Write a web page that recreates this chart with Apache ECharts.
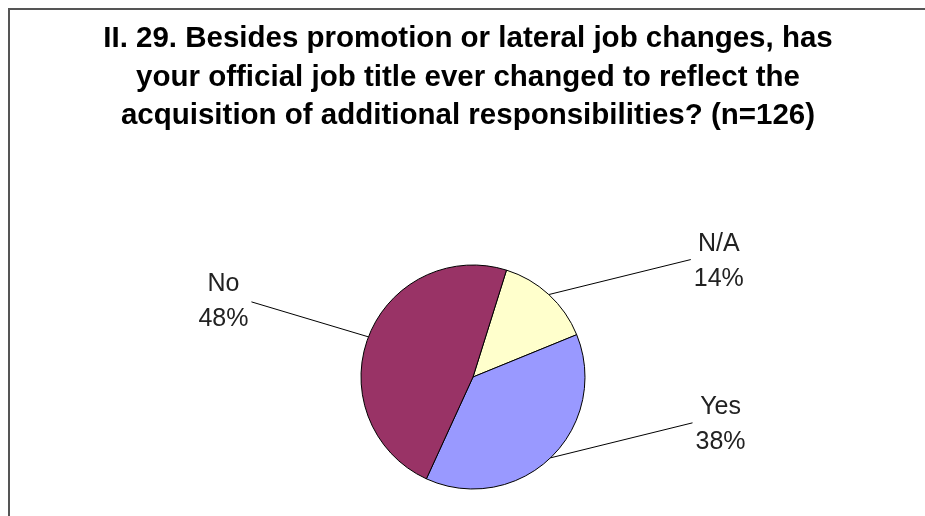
<!DOCTYPE html>
<html>
<head>
<meta charset="utf-8">
<script src="https://cdn.jsdelivr.net/npm/echarts@6/dist/echarts.min.js"></script>
<style>
  html, body { margin: 0; padding: 0; background: #fff; }
  #chart { width: 925px; height: 516px; }
</style>
</head>
<body>
<div id="chart"></div>
<script>
var dom = document.getElementById("chart");
var chart = echarts.init(dom);

// answers, clockwise from the top
var categories = ['N/A', 'Yes', 'No'];
var percents = [14, 38, 48];
var colors = ['#FFFFCC', '#9999FF', '#993366'];

var titleText = 'II. 29. Besides promotion or lateral job changes, has\n' +
  'your official job title ever changed to reflect the\n' +
  'acquisition of additional responsibilities? (n=126)';

var cx = 473, cy = 377;

var pieData = [];
for (var i = 0; i < categories.length; i++) {
  pieData.push({ name: categories[i], value: percents[i], itemStyle: { color: colors[i] } });
}

var option = {
  backgroundColor: '#fff',
  animation: false,
  title: {
    text: titleText,
    left: 463,
    top: 15,
    textAlign: 'center',
    textStyle: {
      fontFamily: 'Liberation Sans',
      fontWeight: 'bold',
      fontSize: 29.5,
      lineHeight: 38.5,
      color: '#000'
    }
  },
  graphic: [{
    type: 'rect',
    shape: { x: 9, y: 9, width: 1000, height: 600 },
    style: { fill: null, stroke: '#555', lineWidth: 2 },
    silent: true
  }],
  series: [{
    type: 'pie',
    center: [cx, cy],
    radius: 112,
    startAngle: 72.6,
    clockwise: true,
    avoidLabelOverlap: false,
    itemStyle: { borderColor: '#000', borderWidth: 1 },
    label: {
      show: true,
      position: 'outside',
      formatter: function (p) { return p.name + '\n' + Math.round(p.percent) + '%'; },
      fontFamily: 'Liberation Sans',
      fontSize: 25,
      lineHeight: 35,
      color: '#222'
    },
    labelLine: { show: true, length: 20, length2: 0, lineStyle: { color: '#000', width: 1 } },
    labelLayout: function (params) {
      var p0 = params.labelLinePoints[0];
      var right = p0[0] > cx;
      var ex = p0[0] + (right ? 142 : -117);
      var ey = p0[1] - 35;
      var w = params.labelRect.width;
      return {
        x: right ? ex + 3 + w / 2 : ex - 3 - w / 2,
        y: ey + (right ? 2 : 0),
        align: 'center',
        verticalAlign: 'middle',
        labelLinePoints: [p0, [ex, ey]]
      };
    },
    data: pieData
  }]
};

chart.setOption(option);
</script>
</body>
</html>
